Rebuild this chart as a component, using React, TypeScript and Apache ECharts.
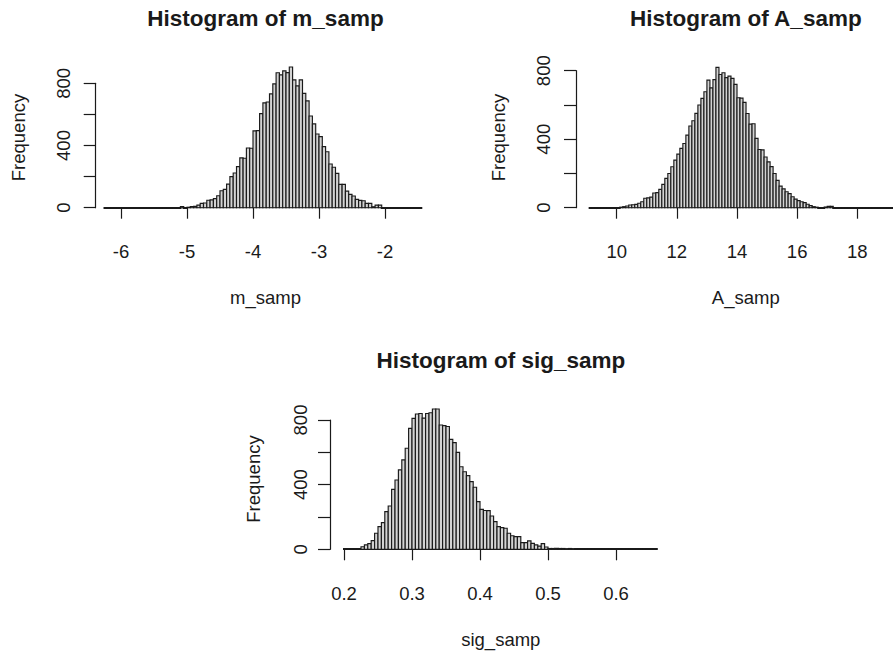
import React, { useEffect, useRef } from 'react';
import * as echarts from 'echarts';

// ---- m_samp histogram (bin width 0.05, first break -6.25) ----
const mSampBreakStart = -6.25;
const mSampBinWidth = 0.05;
const mSampCounts = [
  0, 0, 0, 0, 0, 0, 0, 0, 0, 0, 0, 0, 0, 0, 0, 0, 0, 0, 0, 0, 0, 0, 0,
  8, 0, 3, 8, 9, 17, 28, 30, 48, 50,
  58, 77, 109, 118, 152, 200, 223, 264, 320, 318,
  384, 382, 494, 496, 605, 674, 680, 732, 796, 868,
  854, 880, 869, 905, 822, 783, 822, 735, 687, 590,
  539, 474, 457, 393, 360, 281, 260, 221, 150, 150,
  107, 86, 75, 54, 47, 45, 28, 28, 6, 17,
  17,
  0, 0, 0, 0, 0, 0, 0, 0, 0, 0, 0, 0,
];
const mSampTicks = [-6, -2, 1];

// ---- A_samp histogram (bin width 0.1, first break 9.1) ----
const aSampBreakStart = 9.1;
const aSampBinWidth = 0.1;
const aSampCounts = [
  0, 0, 0, 0, 0, 0, 0, 0, 0, 0,
  3, 6, 10, 16, 17, 19, 26, 35, 55, 57,
  62, 86, 88, 107, 136, 171, 200, 239, 278, 313,
  346, 375, 424, 477, 508, 551, 600, 638, 677, 745,
  700, 748, 819, 778, 788, 760, 768, 755, 720, 642,
  640, 615, 550, 488, 490, 405, 340, 338, 296, 268,
  240, 200, 160, 126, 110, 93, 82, 64, 50, 41,
  35, 30, 20, 12, 6, 3, 0, 0, 4, 8,
  8,
  0, 0, 0, 0, 0, 0, 0, 0, 0, 0, 0, 0, 0, 0, 0, 0, 0, 0, 0, 0, 0, 0,
];
const aSampTicks = [10, 18, 2];

// ---- sig_samp histogram (bin width 0.005, first break 0.2) ----
const sigSampBreakStart = 0.2;
const sigSampBinWidth = 0.005;
const sigSampCounts = [
  0, 0, 0, 0, 0,
  16, 27, 35, 54, 99, 140, 165, 233, 268, 371,
  429, 491, 553, 625, 748, 810, 837, 840, 812, 840,
  845, 868, 868, 769, 765, 760, 680, 660, 600, 511,
  480, 456, 419, 384, 295, 247, 240, 239, 206, 171,
  140, 134, 130, 99, 84, 78, 78, 41, 41, 52,
  37, 27, 20, 35, 14, 5, 5, 6, 5, 5,
  4, 5, 4,
  0, 0, 0, 0, 0, 0, 0, 0, 0, 0, 0, 0, 0, 0, 0, 0, 0, 0, 0, 0, 0, 0, 0, 0,
];
const sigSampTicks = [0.2, 0.6, 0.1];

const freqTicks = [0, 800, 200];
const freqLabelled = [0, 400, 800];

const titles = ['Histogram of m_samp', 'Histogram of A_samp', 'Histogram of sig_samp'];
const xNames = ['m_samp', 'A_samp', 'sig_samp'];
const yName = 'Frequency';

const FONT = '"Liberation Sans", Arial, Helvetica, sans-serif';
const INK = '#1a1a1a';
const FILL = '#d3d3d3';

function histSeries(idx: number, start: number, width: number, counts: number[]) {
  const data = counts.map((c, i) => [start + i * width, start + (i + 1) * width, c]);
  return {
    type: 'custom',
    xAxisIndex: idx,
    yAxisIndex: idx,
    clip: false,
    encode: { x: [0, 1], y: 2 },
    data,
    renderItem: (_params: any, api: any) => {
      const c = api.value(2);
      const a = api.coord([api.value(0), c]);
      const b = api.coord([api.value(1), 0]);
      if (c === 0) {
        const yy = Math.round(b[1]);
        return {
          type: 'line',
          shape: { x1: a[0], y1: yy, x2: b[0], y2: yy },
          style: { stroke: INK, lineWidth: 2, lineCap: 'square' },
        };
      }
      return {
        type: 'rect',
        shape: { x: a[0], y: a[1], width: b[0] - a[0], height: b[1] - a[1] },
        style: { fill: FILL, stroke: INK, lineWidth: 1.15 },
      };
    },
  };
}

function xAxisOf(idx: number, ticks: number[]) {
  return {
    gridIndex: idx,
    type: 'value',
    min: ticks[0],
    max: ticks[1],
    interval: ticks[2],
    offset: 6.5,
    axisLine: { show: true, lineStyle: { color: INK, width: 1.2 } },
    axisTick: { show: true, length: 11, lineStyle: { color: INK, width: 1.2 } },
    axisLabel: { margin: 28, fontSize: 18.5, color: INK, fontFamily: FONT },
    splitLine: { show: false },
  };
}

function yAxisOf(idx: number, offset: number, margin: number) {
  return {
    gridIndex: idx,
    type: 'value',
    min: freqTicks[0],
    max: freqTicks[1],
    interval: freqTicks[2],
    offset,
    axisLine: { show: true, lineStyle: { color: INK, width: 1.2 } },
    axisTick: { show: true, length: 12, lineStyle: { color: INK, width: 1.2 } },
    axisLabel: {
      rotate: 90,
      margin,
      fontSize: 18.5,
      color: INK,
      fontFamily: FONT,
      formatter: (v: number) => (freqLabelled.includes(v) ? String(v) : ''),
    },
    splitLine: { show: false },
  };
}

function text(x: number, y: number, s: string, size: number, bold: boolean, rot = 0) {
  return {
    type: 'text',
    x,
    y,
    rotation: rot,
    style: {
      text: s,
      fill: INK,
      font: `${bold ? 'bold ' : ''}${size}px ${FONT}`,
      align: 'center',
      verticalAlign: 'middle',
    },
  };
}

export default function App() {
  const ref = useRef<HTMLDivElement>(null);
  useEffect(() => {
    if (!ref.current) return;
    const chart = echarts.init(ref.current, undefined, { renderer: 'svg' });
    const gridBase = { containLabel: false, outerBoundsMode: 'none' };
    chart.setOption({
      animation: false,
      backgroundColor: '#ffffff',
      grid: [
        { ...gridBase, left: 121, right: 508, top: 83.3, bottom: 447.3 },
        { ...gridBase, left: 616.7, right: 35.7, top: 70.7, bottom: 447.3 },
        { ...gridBase, left: 344, right: 277, top: 420, bottom: 105.7 },
      ],
      xAxis: [xAxisOf(0, mSampTicks), xAxisOf(1, aSampTicks), xAxisOf(2, sigSampTicks)],
      yAxis: [yAxisOf(0, 25.3, 23), yAxisOf(1, 40.7, 23), yAxisOf(2, 14, 20.5)],
      series: [
        histSeries(0, mSampBreakStart, mSampBinWidth, mSampCounts),
        histSeries(1, aSampBreakStart, aSampBinWidth, aSampCounts),
        histSeries(2, sigSampBreakStart, sigSampBinWidth, sigSampCounts),
      ],
      graphic: [
        text(265.5, 18, titles[0], 22.5, true),
        text(745.8, 18.3, titles[1], 22.5, true),
        text(500.8, 360, titles[2], 22.5, true),
        text(265.5, 297, xNames[0], 18.5, false),
        text(745.8, 297, xNames[1], 18.5, false),
        text(500.8, 639, xNames[2], 18.5, false),
        text(18, 137.5, yName, 18.5, false, Math.PI / 2),
        text(498, 137.5, yName, 18.5, false, Math.PI / 2),
        text(253.5, 479, yName, 18.5, false, Math.PI / 2),
      ],
    });
    return () => chart.dispose();
  }, []);
  return (
    <div
      ref={ref}
      style={{ position: 'fixed', left: 0, top: 0, width: 893, height: 655, background: '#fff' }}
    />
  );
}
